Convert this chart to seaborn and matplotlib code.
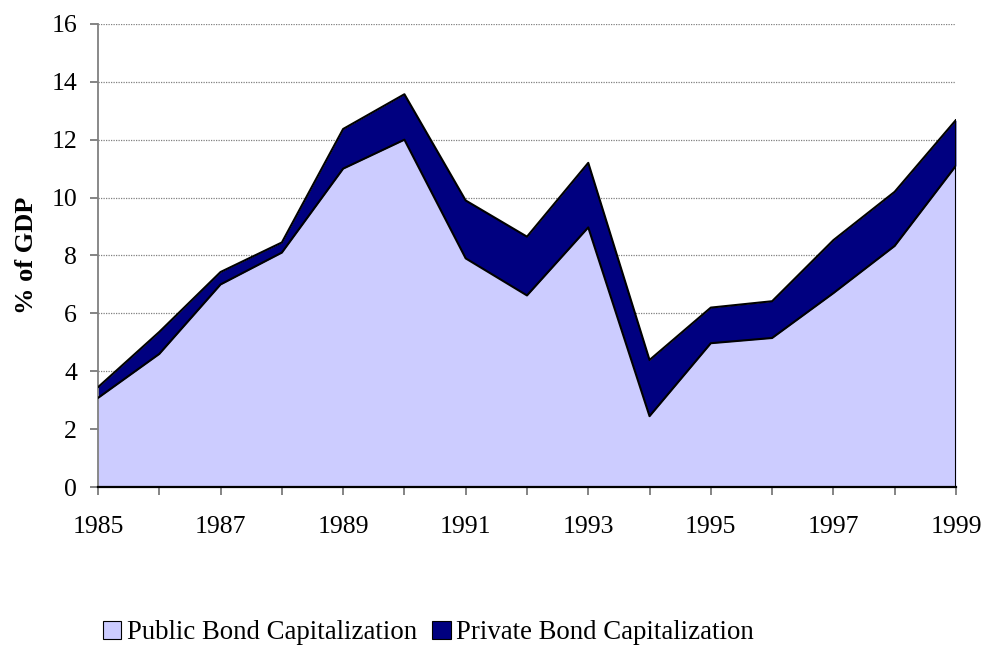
import matplotlib
matplotlib.use('Agg')

import numpy as np
import pandas as pd
import matplotlib.pyplot as plt
from matplotlib.patches import Patch
import seaborn as sns

# dados (% do PIB)
years = [1985, 1986, 1987, 1988, 1989, 1990, 1991, 1992, 1993, 1994, 1995, 1996, 1997, 1998, 1999]
public_bonds = [3.08, 4.6, 7.0, 8.1, 11.0, 12.0, 7.9, 6.62, 8.97, 2.45, 4.97, 5.15, 6.7, 8.33, 11.1]
private_bonds = [0.37, 0.76, 0.43, 0.35, 1.37, 1.57, 2.0, 2.03, 2.23, 1.94, 1.23, 1.27, 1.83, 1.87, 1.58]
y_ticks = [0, 2, 4, 6, 8, 10, 12, 14, 16]
x_ticks = [1985, 1987, 1989, 1991, 1993, 1995, 1997, 1999]

labels = ["Public Bond Capitalization", "Private Bond Capitalization"]
colors = ["#CCCCFF", "#000080"]

df = pd.DataFrame({"year": years, "public": public_bonds, "private": private_bonds})
df["total"] = df["public"] + df["private"]

sns.set_style("white")
plt.rcParams['font.family'] = ['Liberation Serif', 'DejaVu Serif']
plt.rcParams['text.color'] = 'black'
plt.rcParams['xtick.color'] = 'black'
plt.rcParams['ytick.color'] = 'black'

fig = plt.figure(figsize=(9.85, 6.46), dpi=100)
ax = fig.add_axes([0.0995, 0.246, 0.871, 0.717])

# áreas empilhadas
ax.fill_between(df["year"], 0, df["public"], color=colors[0], linewidth=0, zorder=2)
ax.fill_between(df["year"], df["public"], df["total"], color=colors[1], linewidth=0, zorder=2)

# contornos pretos
sns.lineplot(data=df, x="year", y="public", color="black", linewidth=1.5, ax=ax, zorder=3)
sns.lineplot(data=df, x="year", y="total", color="black", linewidth=1.5, ax=ax, zorder=3)
ax.plot([years[-1], years[-1]], [0, df["total"].iloc[-1]], color="black", linewidth=1.5, zorder=3)

ax.set_xlim(years[0], years[-1])
ax.set_ylim(0, 16)
ax.set_yticks(y_ticks)
ax.set_xticks(x_ticks)
ax.set_xticks(years, minor=True)
ax.tick_params(axis='both', which='both', direction='out', length=6, width=1.2, color='#707070',
               labelsize=18.5, labelcolor='black')
ax.tick_params(axis='x', which='both', bottom=True, pad=15)
ax.tick_params(axis='y', left=True, pad=9)

ax.yaxis.grid(True, color='#808080', linestyle=(0, (1, 1)), linewidth=0.9, zorder=0)
ax.set_axisbelow(True)

for side in ['top', 'right']:
    ax.spines[side].set_visible(False)
ax.spines['left'].set_color('#808080')
ax.spines['bottom'].set_color('black')
ax.spines['left'].set_linewidth(1.3)
ax.spines['bottom'].set_linewidth(1.6)

ax.set_xlabel("")
ax.set_ylabel("% of GDP", fontsize=19, fontweight='bold', labelpad=10, color='black')

handles = [Patch(facecolor=c, edgecolor='black', linewidth=0.8) for c in colors]
fig.legend(handles, labels, loc='lower left', bbox_to_anchor=(0.1046, 0.001), ncol=2, frameon=False,
           borderpad=0, borderaxespad=0,
           fontsize=19.3, handlelength=0.68, handleheight=0.68, handletextpad=0.2, columnspacing=0.58)

fig.savefig("out.png", dpi=100)
plt.close(fig)
